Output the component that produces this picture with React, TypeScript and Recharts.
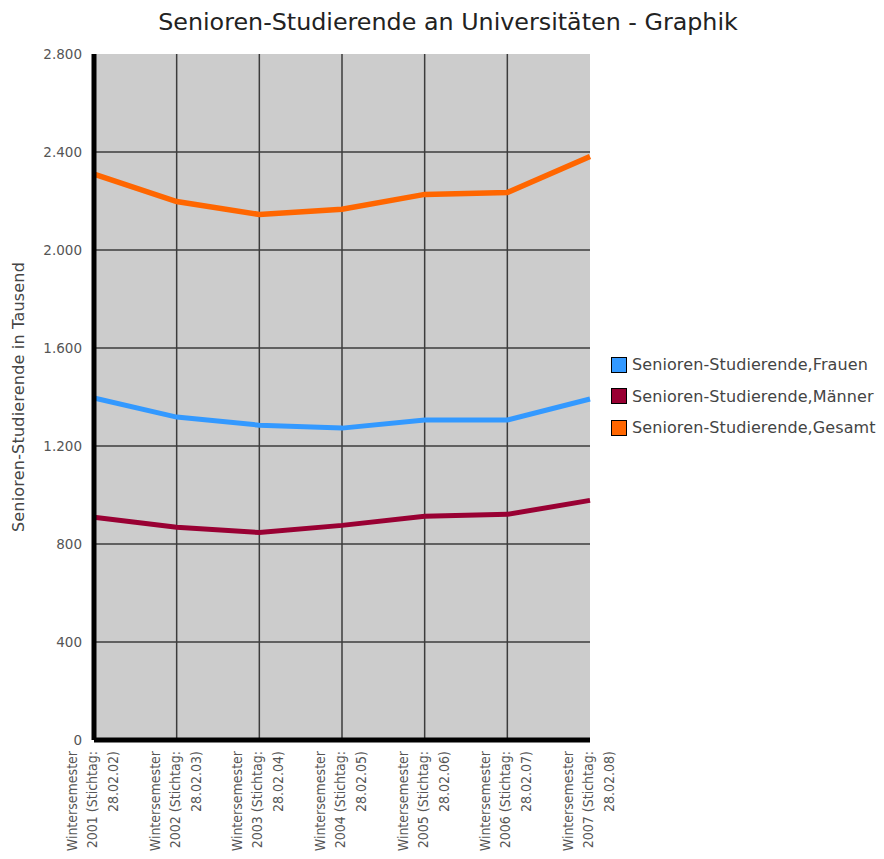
import React from 'react';
import { LineChart, Line, XAxis, YAxis, CartesianGrid } from 'recharts';

const semesterYears = ['2001', '2002', '2003', '2004', '2005', '2006', '2007'];
const stichtage = ['28.02.02', '28.02.03', '28.02.04', '28.02.05', '28.02.06', '28.02.07', '28.02.08'];
const frauen = [1396, 1318, 1285, 1273, 1306, 1306, 1392];
const maenner = [909, 868, 847, 876, 913, 921, 978];
const gesamt = [2310, 2198, 2145, 2166, 2227, 2235, 2382];
const yTicks = [0, 400, 800, 1200, 1600, 2000, 2400, 2800];
const gridValuesY = [400, 800, 1200, 1600, 2000, 2400];

const seriesNames = {
  frauen: 'Senioren-Studierende,Frauen',
  maenner: 'Senioren-Studierende,Männer',
  gesamt: 'Senioren-Studierende,Gesamt',
};
const colors = { frauen: '#3399ff', maenner: '#990033', gesamt: '#ff6600' };

const categories = semesterYears.map((y, i) => `Wintersemester ${y} (Stichtag: ${stichtage[i]})`);
const data = categories.map((c, i) => ({
  cat: c,
  frauen: frauen[i],
  maenner: maenner[i],
  gesamt: gesamt[i],
}));

const FONT = '"DejaVu Sans", Verdana, sans-serif';
const FONT_COND = '"DejaVu Sans Condensed", "DejaVu Sans", sans-serif';

const fmt = (v: number) => String(v).replace(/\B(?=(\d{3})+(?!\d))/g, '.');

const XTick = (props: any) => {
  const { x, y, payload } = props;
  const i = payload.index;
  const lines = ['Wintersemester', `${semesterYears[i]} (Stichtag:`, `${stichtage[i]})`];
  const offs = [-17, 3, 24];
  return (
    <g transform={`translate(${x},${y})`}>
      <text
        transform="rotate(-90)"
        textAnchor="end"
        fontFamily={FONT_COND}
        fontStretch="condensed"
        fontSize={14}
        fill="#555"
      >
        {lines.map((l, k) => (
          <tspan key={k} x={0} y={offs[k]}>
            {l}
          </tspan>
        ))}
      </text>
    </g>
  );
};

const YLabel = (props: any) => {
  const vb = props.viewBox || { x: 0, y: 54, height: 686 };
  const cx = vb.x + 24;
  const cy = vb.y + vb.height / 2;
  return (
    <text
      x={cx}
      y={cy}
      transform={`rotate(-90, ${cx}, ${cy})`}
      textAnchor="middle"
      fontFamily={FONT}
      fontSize={16}
      letterSpacing={0.2}
      fill="#444"
    >
      Senioren-Studierende in Tausend
    </text>
  );
};

const LegendBox = () => {
  const keys: Array<'frauen' | 'maenner' | 'gesamt'> = ['frauen', 'maenner', 'gesamt'];
  return (
    <div style={{ position: 'absolute', left: 611, top: 349, width: 273, fontFamily: FONT }}>
      {keys.map((k) => (
        <div key={k} style={{ display: 'flex', alignItems: 'center', height: 31.5 }}>
          <div
            style={{
              width: 14,
              height: 14,
              background: colors[k],
              border: '1px solid #000',
              marginRight: 5,
            }}
          />
          <span style={{ fontSize: 16, color: '#444', letterSpacing: 0.1, whiteSpace: 'nowrap' }}>
            {seriesNames[k]}
          </span>
        </div>
      ))}
    </div>
  );
};

export default function App() {
  return (
    <div style={{ position: 'absolute', left: 0, top: 0, width: 884, height: 859, background: '#fff' }}>
      <div
        style={{
          position: 'absolute',
          left: 448,
          top: 7,
          transform: 'translateX(-50%)',
          fontFamily: FONT,
          fontSize: 23.8,
          color: '#222',
          whiteSpace: 'nowrap',
          lineHeight: '30px',
        }}
      >
        Senioren-Studierende an Universitäten - Graphik
      </div>
      <LineChart
        width={884}
        height={859}
        data={data}
        margin={{ top: 54, right: 294, bottom: 0, left: 0 }}
      >
        <CartesianGrid
          fill="#cccccc"
          stroke="#3c3c3c"
          strokeWidth={1.5}
          horizontalValues={gridValuesY}
          verticalValues={categories.slice(1, -1)}
        />
        <XAxis
          dataKey="cat"
          type="category"
          interval={0}
          height={119}
          tickLine={false}
          tickSize={0}
          tickMargin={11}
          axisLine={{ stroke: '#000', strokeWidth: 5 }}
          tick={<XTick />}
        />
        <YAxis
          width={94}
          domain={[0, 2800]}
          ticks={yTicks}
          interval={0}
          tickLine={false}
          tickSize={6}
          tickMargin={6}
          axisLine={{ stroke: '#000', strokeWidth: 5 }}
          tickFormatter={fmt}
          tick={{ fontFamily: FONT, fontSize: 13.5, fill: '#555' }}
          label={<YLabel />}
        />
        <Line type="linear" dataKey="frauen" name={seriesNames.frauen} stroke={colors.frauen} strokeWidth={5} dot={false} isAnimationActive={false} />
        <Line type="linear" dataKey="maenner" name={seriesNames.maenner} stroke={colors.maenner} strokeWidth={5} dot={false} isAnimationActive={false} />
        <Line type="linear" dataKey="gesamt" name={seriesNames.gesamt} stroke={colors.gesamt} strokeWidth={5.5} dot={false} isAnimationActive={false} />
      </LineChart>
      <LegendBox />
    </div>
  );
}
